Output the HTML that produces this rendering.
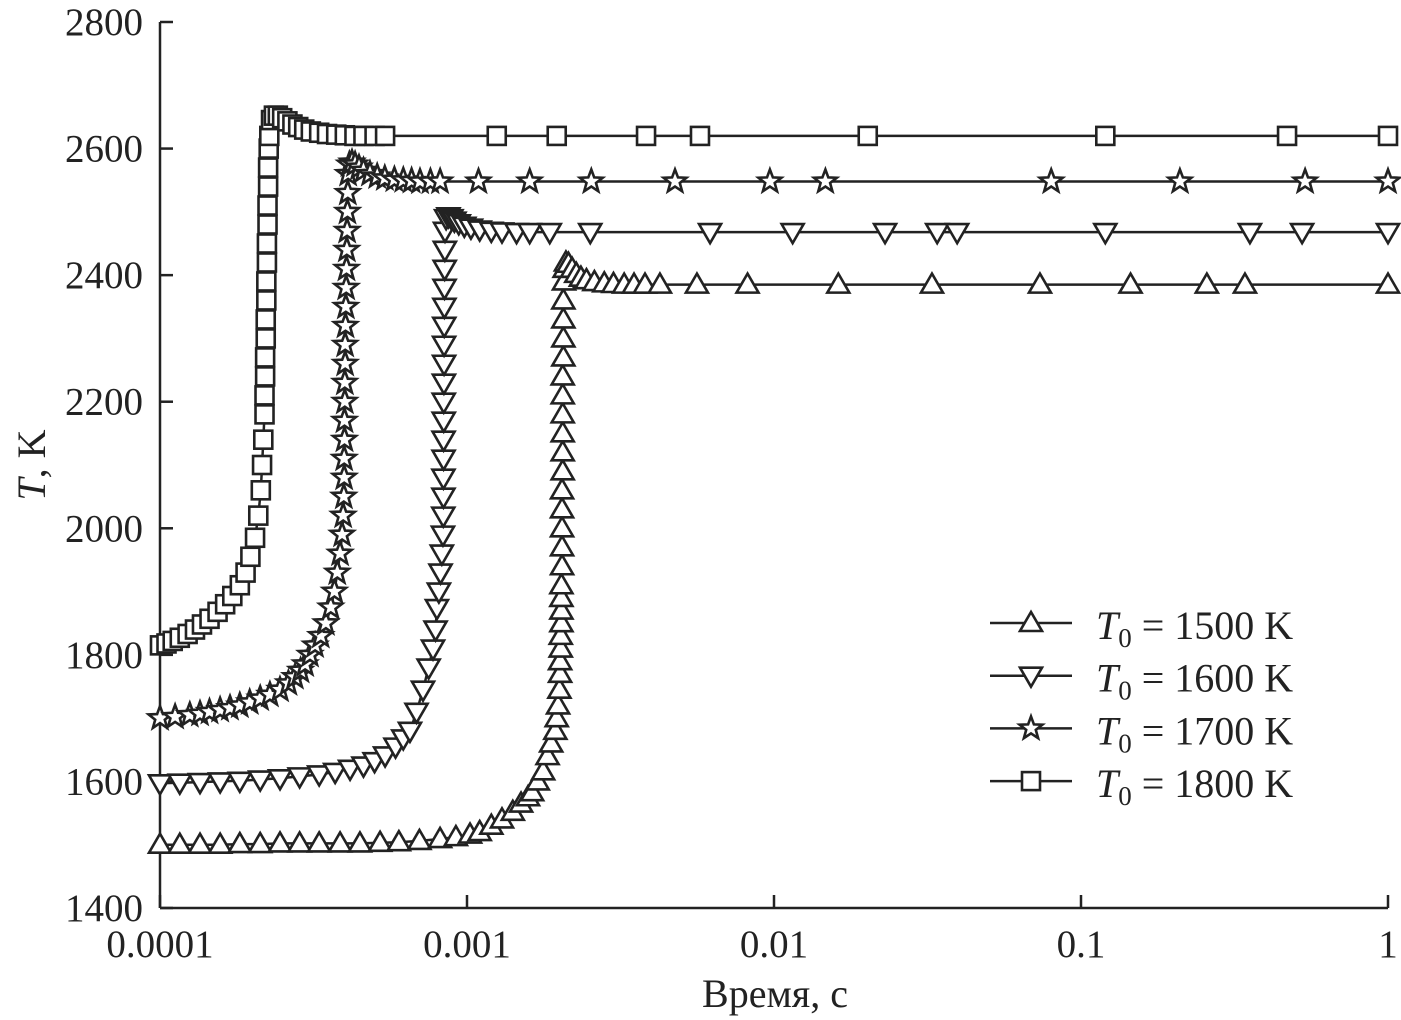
<!DOCTYPE html>
<html><head><meta charset="utf-8">
<style>
html,body{margin:0;padding:0;background:#fff;}
svg{display:block;font-family:"Liberation Serif",serif;}
</style></head>
<body>
<svg id="chart" width="1401" height="1020" xmlns="http://www.w3.org/2000/svg">
<g id="axes"></g>
<g id="series"></g>
<g id="legend"></g>
</svg>
<script>
const yTicks=[1400,1600,1800,2000,2200,2400,2600,2800];
const xTicks=[0.0001,0.001,0.01,0.1,1];
const xTickLabels=["0.0001","0.001","0.01","0.1","1"];
const markerTypes=["up","down","star","square"];
const t1500=[1e-4,1.16e-4,1.35e-4,1.57e-4,1.82e-4,2.12e-4,2.46e-4,2.85e-4,3.3e-4,3.86e-4,4.48e-4,5.21e-4,6.0e-4,7.0e-4,8.17e-4,9.2e-4,1.023e-3,1.10e-3,1.20e-3,1.30e-3,1.41e-3,1.50e-3,1.58e-3,1.63e-3,1.70e-3,1.77e-3,1.83e-3,1.88e-3,1.94e-3,1.96e-3,1.98e-3,2.0e-3,2.01e-3,2.01e-3,2.02e-3,2.02e-3,2.03e-3,2.03e-3,2.03e-3,2.03e-3,2.04e-3,2.04e-3,2.04e-3,2.04e-3,2.04e-3,2.05e-3,2.05e-3,2.05e-3,2.05e-3,2.05e-3,2.05e-3,2.06e-3,2.06e-3,2.06e-3,2.06e-3,2.07e-3,2.08e-3,2.10e-3,2.14e-3,2.20e-3,2.27e-3,2.35e-3,2.45e-3,2.6e-3,2.8e-3,3.0e-3,3.25e-3,3.5e-3,3.8e-3,4.25e-3,5.61e-3,8.2e-3,1.62e-2,3.27e-2,7.35e-2,0.145,0.257,0.342,1];
const T1500=[1500,1500,1500,1500,1501,1501,1502,1502,1502,1502,1502,1503,1504,1506,1509,1512,1516,1520,1530,1540,1552,1565,1575,1583,1600,1616,1640,1660,1680,1700,1720,1745,1770,1790,1810,1830,1850,1870,1890,1910,1940,1970,2000,2030,2060,2090,2120,2150,2180,2210,2240,2270,2300,2330,2360,2390,2410,2420,2418,2410,2402,2396,2392,2389,2387,2386,2385,2385,2385,2385,2385,2385,2385,2385,2385,2385,2385,2385,2385];
const t1600=[1e-4,1.16e-4,1.35e-4,1.57e-4,1.82e-4,2.12e-4,2.46e-4,2.85e-4,3.3e-4,3.72e-4,4.16e-4,4.6e-4,5.0e-4,5.41e-4,5.85e-4,6.2e-4,6.52e-4,6.85e-4,7.19e-4,7.5e-4,7.75e-4,7.9e-4,7.98e-4,8.1e-4,8.2e-4,8.28e-4,8.35e-4,8.37e-4,8.38e-4,8.38e-4,8.39e-4,8.39e-4,8.4e-4,8.4e-4,8.41e-4,8.42e-4,8.42e-4,8.43e-4,8.44e-4,8.45e-4,8.46e-4,8.47e-4,8.48e-4,8.55e-4,8.7e-4,8.9e-4,9.1e-4,9.4e-4,9.8e-4,1.03e-3,1.1e-3,1.2e-3,1.3e-3,1.45e-3,1.6e-3,1.86e-3,2.52e-3,6.19e-3,1.15e-2,2.30e-2,3.40e-2,3.95e-2,0.12,0.355,0.525,1];
const T1600=[1597,1598,1599,1600,1601,1603,1605,1608,1611,1615,1620,1625,1632,1641,1655,1668,1680,1710,1745,1780,1810,1840,1874,1900,1930,1960,1990,2020,2050,2080,2110,2140,2170,2200,2230,2260,2290,2320,2350,2380,2410,2440,2470,2490,2493,2490,2486,2482,2478,2475,2472,2470,2469,2468,2468,2468,2468,2468,2468,2468,2468,2468,2468,2468,2468,2468];
const t1700=[1e-4,1.12e-4,1.25e-4,1.35e-4,1.45e-4,1.57e-4,1.69e-4,1.82e-4,1.96e-4,2.12e-4,2.28e-4,2.46e-4,2.62e-4,2.75e-4,2.87e-4,2.97e-4,3.08e-4,3.20e-4,3.34e-4,3.47e-4,3.6e-4,3.7e-4,3.78e-4,3.86e-4,3.92e-4,3.95e-4,3.97e-4,3.98e-4,3.98e-4,3.99e-4,3.99e-4,4.0e-4,4.0e-4,4.01e-4,4.01e-4,4.02e-4,4.03e-4,4.04e-4,4.05e-4,4.06e-4,4.07e-4,4.08e-4,4.09e-4,4.10e-4,4.14e-4,4.22e-4,4.32e-4,4.45e-4,4.6e-4,4.83e-4,5.1e-4,5.4e-4,5.8e-4,6.2e-4,6.6e-4,7.03e-4,7.6e-4,8.17e-4,1.09e-3,1.60e-3,2.54e-3,4.76e-3,9.7e-3,1.47e-2,8.0e-2,0.21,0.537,1];
const T1700=[1700,1702,1705,1707,1710,1713,1716,1720,1725,1731,1737,1745,1755,1765,1775,1785,1800,1815,1830,1850,1875,1900,1930,1960,1990,2020,2050,2080,2110,2140,2170,2200,2230,2260,2290,2320,2350,2380,2410,2440,2470,2500,2530,2560,2575,2578,2575,2570,2565,2560,2556,2553,2551,2550,2549,2548,2548,2548,2548,2548,2548,2548,2548,2548,2548,2548,2548,2548];
const t1800=[1e-4,1.05e-4,1.1e-4,1.16e-4,1.23e-4,1.30e-4,1.37e-4,1.45e-4,1.54e-4,1.63e-4,1.72e-4,1.82e-4,1.9e-4,1.97e-4,2.04e-4,2.09e-4,2.13e-4,2.15e-4,2.17e-4,2.19e-4,2.19e-4,2.2e-4,2.2e-4,2.21e-4,2.21e-4,2.22e-4,2.22e-4,2.23e-4,2.23e-4,2.24e-4,2.24e-4,2.25e-4,2.25e-4,2.26e-4,2.27e-4,2.3e-4,2.35e-4,2.42e-4,2.5e-4,2.6e-4,2.7e-4,2.82e-4,2.95e-4,3.1e-4,3.3e-4,3.5e-4,3.75e-4,4.0e-4,4.3e-4,4.6e-4,5.0e-4,5.41e-4,1.25e-3,1.96e-3,3.83e-3,5.74e-3,2.02e-2,0.12,0.469,1];
const T1800=[1815,1818,1822,1827,1833,1840,1848,1857,1868,1880,1893,1910,1930,1955,1985,2020,2060,2100,2140,2180,2210,2240,2270,2300,2330,2360,2390,2420,2450,2480,2510,2540,2570,2600,2620,2645,2652,2652,2648,2643,2638,2634,2630,2627,2625,2623,2622,2621,2620,2620,2620,2620,2620,2620,2620,2620,2620,2620,2620,2620];

const NS="http://www.w3.org/2000/svg";
const X0=160,X1=1388,Y0=908,Y1=22;
function xs(t){return X0+(Math.log10(t)+4)/4*(X1-X0);}
function ys(v){return Y0-(v-1400)/1400*(Y0-Y1);}
function mk(tag,attrs,parent){const e=document.createElementNS(NS,tag);for(const k in attrs)e.setAttribute(k,attrs[k]);parent.appendChild(e);return e;}
const axes=document.getElementById('axes');
let e=mk('line',{x1:X0,y1:Y1,x2:X0,y2:Y0,stroke:'#222','stroke-width':2.5},axes);


e=mk('line',{x1:X0,y1:Y0,x2:X1,y2:Y0,stroke:'#222','stroke-width':2.5},axes);


yTicks.forEach(v=>{const y=ys(v);
 let l=mk('line',{x1:X0,y1:y,x2:X0+13,y2:y,stroke:'#222','stroke-width':2.5},axes);
 
 
 let t=mk('text',{x:143,y:y+13,'text-anchor':'end','font-size':39,fill:'#222'},axes);t.textContent=v;
 
 
});
xTicks.forEach((v,i)=>{const x=xs(v);
 let l=mk('line',{x1:x,y1:Y0,x2:x,y2:Y0-13,stroke:'#222','stroke-width':2.5},axes);
 
 
 let t=mk('text',{x:x,y:957,'text-anchor':'middle','font-size':39,fill:'#222'},axes);t.textContent=xTickLabels[i];
 
 
});
let xt=mk('text',{x:775,y:1007,'text-anchor':'middle','font-size':40,fill:'#222'},axes);xt.textContent='Время, с';


let yt=mk('text',{x:0,y:0,'text-anchor':'middle','font-size':40,fill:'#222',transform:'translate(45,465) rotate(-90)'},axes);
yt.innerHTML='<tspan font-style="italic">T</tspan>, K';



function marker(type,x,y,parent){
 const st={fill:'#fff',stroke:'#222','stroke-width':2.6};let m;
 if(type==='square'){m=mk('rect',Object.assign({x:x-9,y:y-9,width:18,height:18},st),parent);}
 else if(type==='up'){m=mk('polygon',Object.assign({points:`${x},${y-11} ${x-11},${y+8} ${x+11},${y+8}`},st),parent);}
 else if(type==='down'){m=mk('polygon',Object.assign({points:`${x},${y+11} ${x-11},${y-8} ${x+11},${y-8}`},st),parent);}
 else{let p=[];for(let k=0;k<10;k++){const r=k%2?5:12,a=-Math.PI/2+k*Math.PI/5;p.push((x+r*Math.cos(a)).toFixed(1)+','+(y+r*Math.sin(a)).toFixed(1));}
  m=mk('polygon',Object.assign({points:p.join(' ')},st),parent);}
 return m;
}
const data=[[t1500,T1500],[t1600,T1600],[t1700,T1700],[t1800,T1800]];
const sg=document.getElementById('series');
data.forEach((d,i)=>{
 const g=mk('g',{},sg);
 
 
 const pts=d[0].map((t,j)=>xs(t).toFixed(1)+','+ys(d[1][j]).toFixed(1)).join(' ');
 const pl=mk('polyline',{points:pts,fill:'none',stroke:'#222','stroke-width':2.5},g);
 
 
 d[0].forEach((t,j)=>{const m=marker(markerTypes[i],xs(t),ys(d[1][j]),g);
  
  });
});
const lg=document.getElementById('legend');
[1500,1600,1700,1800].forEach((v,i)=>{
 const y=623+i*52.7;
 const g=mk('g',{},lg);
 
 
 mk('line',{x1:990,y1:y,x2:1072,y2:y,stroke:'#222','stroke-width':2.5},g);
 marker(markerTypes[i],1031,y,g);
 const t=mk('text',{x:1096,y:y+16,'font-size':40,fill:'#222'},g);
 t.innerHTML='<tspan font-style="italic">T</tspan><tspan font-size="27" dy="8">0</tspan><tspan dy="-8"> = '+v+' K</tspan>';
});
</script>
</body></html>
